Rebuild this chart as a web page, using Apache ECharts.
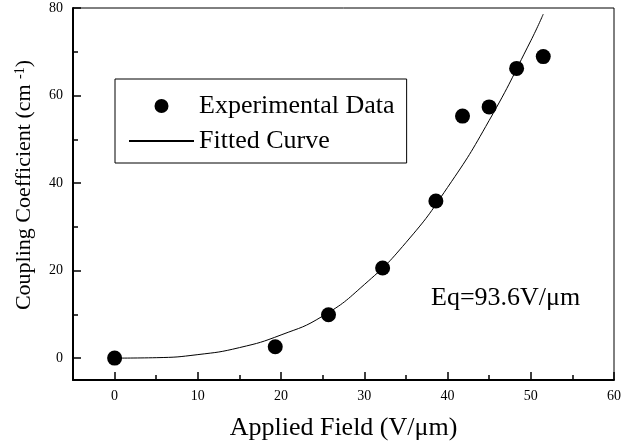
<!DOCTYPE html>
<html>
<head>
<meta charset="utf-8">
<script src="https://cdn.jsdelivr.net/npm/echarts@6/dist/echarts.min.js"></script>
<style>
  html, body { margin: 0; padding: 0; background: #fff; }
  #chart-container { width: 634px; height: 446px; }
</style>
</head>
<body>
<div id="chart-container"></div>
<script>
// measured points
var fieldData = [0, 19.3, 25.7, 32.2, 38.6, 41.8, 45.0, 48.3, 51.5];
var couplingData = [0, 2.6, 9.9, 20.6, 35.9, 55.3, 57.4, 66.2, 68.9];

// fitted curve
var fitField = [0, 5, 10, 15, 20, 25, 30, 35, 40, 45, 50, 51.5];
var fitCoupling = [0, 0.1, 0.8, 2.4, 5.3, 9.6, 16.8, 26.4, 39, 54.3, 72.5, 78.6];

var xTicks = [0, 10, 20, 30, 40, 50, 60];
var xMinorTicks = [5, 15, 25, 35, 45, 55];
var yTicks = [0, 20, 40, 60, 80];
var yMinorTicks = [10, 30, 50, 70];

var serif = "'Liberation Serif', 'Times New Roman', serif";

var dom = document.getElementById("chart-container");
var myChart = echarts.init(dom, null, { renderer: "canvas" });
var option;

function pairs(xs, ys) {
  return xs.map(function (x, i) { return [x, ys[i]]; });
}

var axisBase = {
  type: "value",
  splitLine: { show: false },
  axisLine: { show: true, onZero: false, lineStyle: { color: "#000", width: 2 } },
  axisLabel: { color: "#000", fontFamily: serif, fontSize: 14 },
};

option = {
  animation: false,
  backgroundColor: "#fff",
  grid: {
    left: 73, right: 20, top: 8, bottom: 63,
    show: true, borderColor: "#000", borderWidth: 1,
  },
  legend: {
    left: 115, top: 79, orient: "vertical",
    padding: [14, 12, 9, 13],
    itemWidth: 65, itemHeight: 14, itemGap: 9, itemTextGap: 7,
    borderColor: "#000", borderWidth: 1,
    selectedMode: false,
    textStyle: { fontFamily: serif, fontSize: 26, color: "#000" },
    data: [
      { name: "Experimental Data", icon: "circle" },
      { name: "Fitted Curve", itemStyle: { opacity: 0 } },
    ],
  },
  xAxis: [
    Object.assign({}, axisBase, {
      min: -5, max: 60, position: "bottom",
      axisTick: { inside: true, length: 8, customValues: xTicks, lineStyle: { color: "#000", width: 1.5 } },
      axisLabel: Object.assign({}, axisBase.axisLabel, { customValues: xTicks, margin: 9 }),
      name: "Applied Field (V/\u03bcm)",
      nameLocation: "middle", nameGap: 35,
      nameTextStyle: { fontFamily: serif, fontSize: 26, color: "#000" },
    }),
    {
      type: "value", min: -5, max: 60, position: "bottom",
      splitLine: { show: false },
      axisLine: { show: false, onZero: false },
      axisLabel: { show: false },
      axisTick: { inside: true, length: 5, customValues: xMinorTicks, lineStyle: { color: "#000", width: 1.5 } },
    },
  ],
  yAxis: [
    Object.assign({}, axisBase, {
      min: -5, max: 80, position: "left",
      axisTick: { inside: true, length: 8, customValues: yTicks, lineStyle: { color: "#000", width: 1.5 } },
      axisLabel: Object.assign({}, axisBase.axisLabel, { customValues: yTicks, margin: 10 }),
      name: "Coupling Coefficient (cm {sup|-1})",
      nameLocation: "middle", nameGap: 38, nameRotate: 90,
      nameTextStyle: {
        fontFamily: serif, fontSize: 22, color: "#000",
        padding: [0, 0, 0, 18],
        rich: { sup: { fontFamily: serif, fontSize: 14, color: "#000", verticalAlign: "top", padding: [0, 0, 8, 0] } },
      },
    }),
    {
      type: "value", min: -5, max: 80, position: "left",
      splitLine: { show: false },
      axisLine: { show: false, onZero: false },
      axisLabel: { show: false },
      axisTick: { inside: true, length: 5, customValues: yMinorTicks, lineStyle: { color: "#000", width: 1.5 } },
    },
  ],
  graphic: [
    {
      type: "text", left: 431, top: 285,
      style: { text: "Eq=93.6V/\u03bcm", font: "26px " + serif, fill: "#000" },
    },
  ],
  series: [
    {
      name: "Fitted Curve",
      type: "line",
      smooth: true,
      symbol: "none",
      data: pairs(fitField, fitCoupling),
      lineStyle: { color: "#000", width: 1 },
      itemStyle: { color: "#000" },
      z: 2,
    },
    {
      name: "Experimental Data",
      type: "scatter",
      symbol: "circle",
      symbolSize: 15,
      data: pairs(fieldData, couplingData),
      itemStyle: { color: "#000", opacity: 1 },
      z: 3,
    },
  ],
};

myChart.setOption(option);
window.addEventListener("resize", myChart.resize);
</script>
</body>
</html>
